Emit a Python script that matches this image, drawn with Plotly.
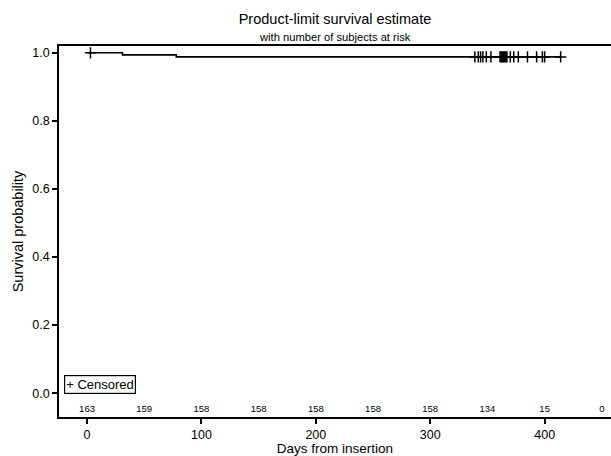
import plotly.graph_objects as go

# Kaplan-Meier step curve
step_times = [0, 31, 78, 414]
step_surv = [1.0, 0.994, 0.988, 0.988]

# Censored observation times
censored_times = [3, 339, 342, 344, 346, 349, 353, 361, 362, 363, 364, 365, 366, 367,
                  370, 373, 377, 385, 393, 398, 400, 414]

# Number at risk
risk_times = [0, 50, 100, 150, 200, 250, 300, 350, 400, 450]
risk_counts = [163, 159, 158, 158, 158, 158, 158, 134, 15, 0]

x_ticks = [0, 100, 200, 300, 400]
y_ticks = [0.0, 0.2, 0.4, 0.6, 0.8, 1.0]


def surv_at(t):
    s = step_surv[0]
    for tt, ss in zip(step_times, step_surv):
        if tt <= t:
            s = ss
    return s


cens_surv = [surv_at(t) for t in censored_times]

FONT = "Liberation Sans, Arial, sans-serif"

fig = go.Figure()
fig.add_trace(go.Scatter(x=step_times, y=step_surv, mode="lines",
                         line=dict(color="black", width=1.6, shape="hv"),
                         showlegend=False, hoverinfo="skip"))
fig.add_trace(go.Scatter(x=censored_times, y=cens_surv, mode="markers",
                         marker=dict(symbol="cross-thin", size=8, color="black",
                                     line=dict(color="black", width=1.5)),
                         showlegend=False))
fig.add_trace(go.Scatter(x=risk_times, y=[-0.047] * len(risk_times), mode="text",
                         text=[str(c) for c in risk_counts],
                         textfont=dict(family=FONT, size=9.5, color="black"),
                         showlegend=False, hoverinfo="skip"))

fig.update_layout(
    width=611, height=456,
    margin=dict(l=59, r=0, t=46, b=39),
    paper_bgcolor="white", plot_bgcolor="white",
    font=dict(family=FONT, size=13, color="black"),
    title=dict(text="Product-limit survival estimate",
               x=(59 + 611) / 2 / 611, xanchor="center", y=1 - 19 / 456, yanchor="middle",
               font=dict(family=FONT, size=14.5, color="black")),
    annotations=[
        dict(text="with number of subjects at risk", xref="paper", yref="paper",
             x=0.5, y=1 + 9 / 371, xanchor="center", yanchor="middle", showarrow=False,
             font=dict(family=FONT, size=11.2, color="black")),
        dict(text="+ Censored", xref="paper", yref="paper", x=0.009, y=0.062,
             xanchor="left", yanchor="bottom", showarrow=False,
             font=dict(family=FONT, size=13, color="black"),
             bordercolor="black", borderwidth=1.2, borderpad=1, bgcolor="white"),
    ],
)
fig.update_xaxes(range=[-24.5, 458], tickvals=x_ticks, ticks="outside", ticklen=5,
                 tickwidth=1.5, tickcolor="black", showline=True, linecolor="black",
                 linewidth=1.5, mirror=True, showgrid=False, zeroline=False,
                 title=dict(text="Days from insertion", standoff=3,
                            font=dict(family=FONT, size=13.5)),
                 tickfont=dict(family=FONT, size=12.5))
fig.update_yaxes(range=[-0.07, 1.02], tickvals=y_ticks, tickformat=".1f", ticks="outside",
                 ticklen=5, tickwidth=1.5, tickcolor="black", showline=True,
                 linecolor="black", linewidth=1.5, showgrid=False, zeroline=False,
                 title=dict(text="Survival probability", standoff=5,
                            font=dict(family=FONT, size=14.5)),
                 tickfont=dict(family=FONT, size=12.5))

fig.write_html("out.html")
